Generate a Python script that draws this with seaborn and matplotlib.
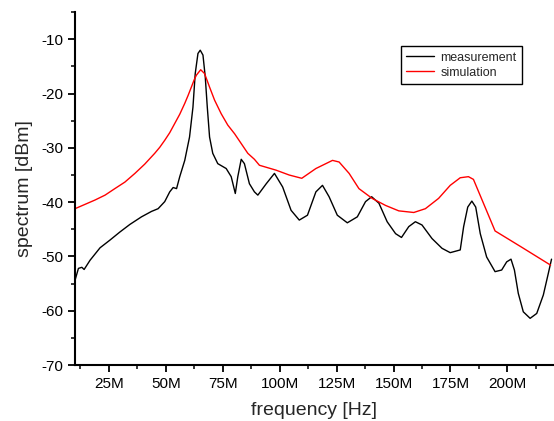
# spectrum: measurement vs simulation

import pandas as pd
import numpy as np
import matplotlib.pyplot as plt
import seaborn as sns
from matplotlib.ticker import MultipleLocator, FuncFormatter

# measurement trace, frequency in MHz, level in dBm
meas_freq = [10.1, 11.6, 13.1, 14.1, 16.7, 21.1, 25.4, 29.8, 34.2, 39.3,
             43.7, 46.6, 49.5, 51.7, 53.2, 54.7, 56.1, 58.3, 60.4, 61.9,
             62.9, 64.1, 65.1, 66.3, 67.3, 68.2, 69.2, 70.6, 72.8, 76.5,
             78.7, 80.5, 81.6, 83.1, 84.5, 86.7, 88.9, 90.4, 94.1, 97.7,
             101.3, 105.0, 108.6, 112.2, 115.9, 118.8, 121.7, 125.3, 129.7, 134.1,
             137.7, 140.4, 143.6, 147.2, 150.9, 153.5, 156.7, 159.6, 162.5, 166.9,
             171.3, 174.9, 179.3, 180.8, 182.6, 184.4, 186.1, 188.1, 190.9, 194.6,
             197.5, 199.7, 201.6, 203.1, 204.8, 207.0, 210.0, 212.9, 215.8, 218.0,
             219.4]
meas_level = [-54.4, -52.2, -52.0, -52.4, -50.7, -48.4, -47.0, -45.5, -44.1, -42.7,
              -41.7, -41.2, -39.9, -38.1, -37.3, -37.5, -35.3, -32.3, -28.0, -22.5,
              -16.3, -12.6, -12.0, -12.9, -16.9, -22.5, -28.0, -31.0, -32.9, -33.8,
              -35.3, -38.4, -35.3, -32.1, -32.9, -36.6, -38.1, -38.7, -36.6, -34.7,
              -37.2, -41.5, -43.3, -42.4, -38.1, -36.9, -39.0, -42.4, -43.8, -42.7,
              -39.9, -39.0, -40.2, -43.6, -45.8, -46.5, -44.5, -43.6, -44.2, -46.7,
              -48.5, -49.3, -48.8, -44.5, -40.9, -39.8, -40.9, -45.8, -50.1, -52.8,
              -52.5, -51.0, -50.5, -52.5, -56.8, -60.2, -61.4, -60.5, -57.1, -53.1,
              -50.5]

# simulation trace
sim_freq = [10.1, 14.5, 18.9, 23.3, 27.6, 32.0, 36.4, 40.7, 45.1, 47.3,
            49.5, 51.7, 53.9, 56.1, 58.3, 59.8, 61.2, 62.4, 63.4, 65.3,
            67.0, 69.2, 71.4, 74.3, 77.2, 80.2, 83.1, 86.0, 88.9, 91.1,
            98.4, 104.2, 109.7, 115.9, 123.2, 126.1, 130.5, 134.8, 140.6, 146.5,
            152.3, 158.9, 164.0, 169.8, 174.9, 179.3, 182.9, 185.1, 190.2, 194.6,
            206.3, 219.0]
sim_level = [-41.2, -40.4, -39.6, -38.7, -37.5, -36.3, -34.7, -33.0, -31.0, -29.9,
             -28.6, -27.2, -25.5, -23.8, -21.8, -20.3, -18.8, -17.5, -16.6, -15.6,
             -16.3, -18.8, -21.2, -23.7, -25.8, -27.4, -29.2, -31.0, -32.1, -33.2,
             -34.1, -35.0, -35.6, -33.8, -32.3, -32.6, -34.7, -37.5, -39.3, -40.6,
             -41.6, -41.9, -41.2, -39.3, -36.9, -35.5, -35.3, -35.8, -40.9, -45.3,
             -48.3, -51.6]

meas = pd.DataFrame({'freq': meas_freq, 'level': meas_level, 'trace': 'measurement'})
sim = pd.DataFrame({'freq': sim_freq, 'level': sim_level, 'trace': 'simulation'})
df = pd.concat([meas, sim], ignore_index=True)

sns.set_style('ticks')
plt.rcParams['font.family'] = ['Liberation Sans', 'DejaVu Sans']
plt.rcParams['axes.unicode_minus'] = False

fig = plt.figure(figsize=(5.54, 4.21), dpi=100)
ax = fig.add_axes([0.135, 0.133, 0.863, 0.838])

sns.lineplot(data=df, x='freq', y='level', hue='trace', sort=False,
             palette={'measurement': 'black', 'simulation': 'red'},
             linewidth=1.0, ax=ax)

ax.set_xlim(10, 220)
ax.set_ylim(-70, -5)
ax.xaxis.set_minor_locator(MultipleLocator(12.5))
ax.yaxis.set_minor_locator(MultipleLocator(5))
ax.set_xticks([25, 50, 75, 100, 125, 150, 175, 200])
ax.set_yticks([-70, -60, -50, -40, -30, -20, -10])
ax.xaxis.set_major_formatter(FuncFormatter(lambda v, p: f'{v:g}M'))
ax.tick_params(which='major', length=5, width=1.3, labelsize=11, colors='black')
ax.tick_params(which='minor', length=3, width=1.3)

for side in ['top', 'right']:
    ax.spines[side].set_visible(False)
for side in ['left', 'bottom']:
    ax.spines[side].set_linewidth(1.5)
    ax.spines[side].set_color('black')

ax.set_xlabel('frequency [Hz]', fontsize=14, labelpad=8)
ax.set_ylabel('spectrum [dBm]', fontsize=14, labelpad=6)

leg = ax.legend(loc='upper left', bbox_to_anchor=(0.682, 0.904), fontsize=9,
                frameon=True, fancybox=False, framealpha=1, edgecolor='black',
                handlelength=2.2, borderpad=0.45, labelspacing=0.25,
                borderaxespad=0, handletextpad=0.5)
leg.get_frame().set_linewidth(1.0)

fig.savefig('out.png', dpi=100)
